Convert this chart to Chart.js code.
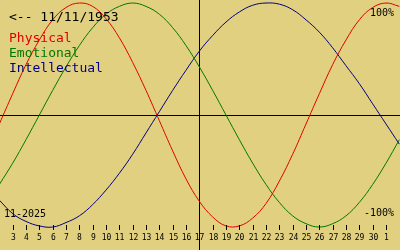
<!DOCTYPE html>
<html>
<head>
<meta charset="utf-8">
<script src="https://cdn.jsdelivr.net/npm/chart.js@4"></script>
<style>
    html, body { margin: 0; padding: 0; background: #e0d080; }
    #wrap { width: 400px; height: 250px; }
</style>
</head>
<body>
<div id="wrap"><canvas id="bio"></canvas></div>
<script>
// days shown on the axis (Nov 3 .. Nov 30, Dec 1)
const dayLabels = ['3','4','5','6','7','8','9','10','11','12','13','14','15','16','17','18','19','20','21','22','23','24','25','26','27','28','29','30','1'];
// values per day index, from -1 (Nov 2) to 29 (Dec 2)
const dayIndex = [-1,0,1,2,3,4,5,6,7,8,9,10,11,12,13,14,15,16,17,18,19,20,21,22,23,24,25,26,27,28,29];
const physical = [-8,19,45,67,85,96,100,97,86,69,47,22,-5,-32,-57,-77,-91,-99,-99,-92,-79,-59,-35,-8,19,45,67,85,96,100,97];
const emotional = [-62,-43,-22,0,22,43,62,78,90,97,100,97,90,78,62,43,22,0,-22,-43,-62,-78,-90,-97,-100,-97,-90,-78,-62,-43,-22];
const intellectual = [-76,-88,-95,-99,-100,-96,-90,-80,-67,-52,-35,-16,3,22,40,57,71,83,92,98,100,99,94,85,74,60,44,28,10,-8,-26];
const todayIndex = 14;
const birthText = '<-- 11/11/1953';
const monthText = '11-2025';

function points(values) {
    return dayIndex.map((d, i) => ({x: d, y: values[i]}));
}

const overlay = {
    id: 'overlay',
    beforeDatasetsDraw(chart) {
        const c = chart.ctx;
        const xs = chart.scales.x;
        const ys = chart.scales.y;
        c.save();
        c.strokeStyle = '#000000';
        c.lineWidth = 1;
        const y0 = Math.round(ys.getPixelForValue(0)) + 0.5;
        const xt = Math.round(xs.getPixelForValue(todayIndex)) + 0.5;
        c.beginPath();
        c.moveTo(0, y0); c.lineTo(chart.width, y0);
        c.moveTo(xt, 0); c.lineTo(xt, chart.height);
        c.stroke();
        c.restore();
    },
    afterDraw(chart) {
        const c = chart.ctx;
        const xs = chart.scales.x;
        c.save();
        // ticks and day numbers
        c.strokeStyle = '#000000';
        c.lineWidth = 1;
        c.font = '8px "DejaVu Sans Mono"';
        c.fillStyle = '#000000';
        c.textAlign = 'center';
        c.textBaseline = 'alphabetic';
        dayLabels.forEach((lab, i) => {
            const x = Math.round(xs.getPixelForValue(i)) + 0.5;
            c.beginPath();
            c.moveTo(x, 225); c.lineTo(x, 230);
            c.stroke();
            c.fillText(lab, x, 240);
        });
        // corner texts
        c.textAlign = 'left';
        c.font = '13px "DejaVu Sans Mono"';
        c.fillStyle = '#000000';
        c.fillText(birthText, 9, 21);
        c.fillStyle = '#e00000';
        c.fillText('Physical', 9, 42);
        c.fillStyle = '#007800';
        c.fillText('Emotional', 9, 57);
        c.fillStyle = '#000080';
        c.fillText('Intellectual', 9, 72);
        c.fillStyle = '#000000';
        c.font = '10px "DejaVu Sans Mono"';
        c.fillText(monthText, 4, 217);
        c.textAlign = 'right';
        c.fillText('100%', 394, 16);
        c.fillText('-100%', 394, 216);
        c.restore();
    }
};

function drawBio() {
    const ctx = document.getElementById('bio');

    const data = {
        datasets: [{
            label: 'Physical',
            data: points(physical),
            borderColor: '#e00000',
        },
            {
                label: 'Emotional',
                data: points(emotional),
                borderColor: '#007800',
            },
            {
                label: 'Intellectual',
                data: points(intellectual),
                borderColor: '#000080',
            }]
    };

    const config = {
        type: 'line',
        data: data,
        options: {
            responsive: false,
            animation: false,
            layout: {padding: 0},
            elements: {
                line: {borderWidth: 1, tension: 0.4, fill: false},
                point: {radius: 0}
            },
            plugins: {legend: {display: false}, tooltip: {enabled: false}},
            scales: {
                x: {type: 'linear', display: false, min: -0.95, max: 29.05},
                y: {display: false, min: -120.5, max: 102.7}
            }
        },
        plugins: [overlay]
    };

    ctx.width = 400;
    ctx.height = 250;
    new Chart(ctx, config)
}
document.addEventListener("DOMContentLoaded", function () {
    drawBio()
});
</script>
</body>
</html>
